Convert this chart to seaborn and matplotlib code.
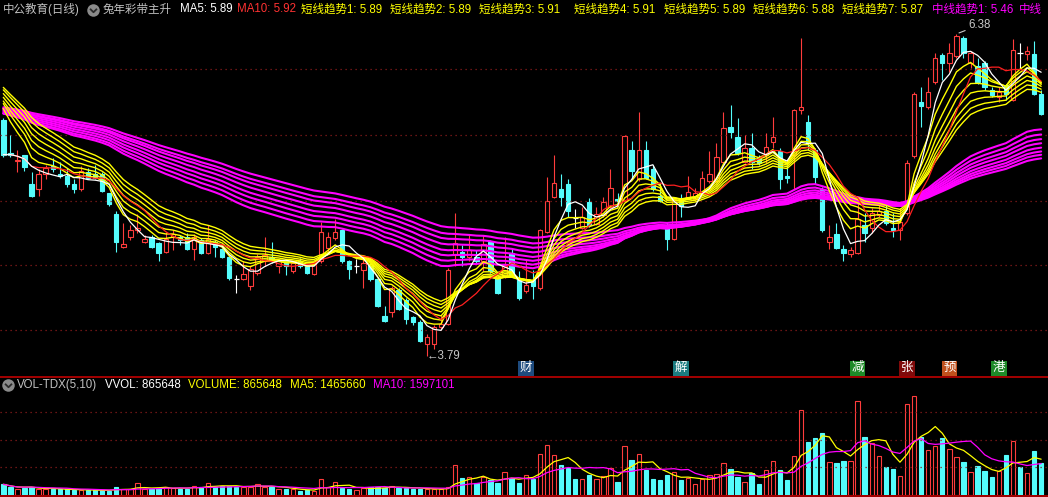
import numpy as np
import pandas as pd
import seaborn as sns
import matplotlib.pyplot as plt
from matplotlib.lines import Line2D
from matplotlib.path import Path
from matplotlib.transforms import blended_transform_factory

# ---------------------- Data -------------------------------------------
opens = [5.69, 5.42, 5.36, 5.41, 5.17, 5.13, 5.25, 5.32, 5.25, 5.24,
         5.17, 5.13, 5.27, 5.25, 5.25, 5.10, 4.93, 4.67, 4.75, 4.80,
         4.71, 4.75, 4.70, 4.63, 4.75, 4.75, 4.75, 4.65, 4.72, 4.62,
         4.71, 4.65, 4.59, 4.41, 4.41, 4.35, 4.46, 4.55, 4.59, 4.51,
         4.55, 4.47, 4.55, 4.51, 4.45, 4.55, 4.66, 4.74, 4.80, 4.55,
         4.51, 4.48, 4.52, 4.41, 4.11, 4.14, 4.32, 4.24, 4.10, 4.06,
         3.89, 3.89, 4.02, 4.05, 4.60, 4.63, 4.59, 4.59, 4.55, 4.71,
         4.42, 4.43, 4.62, 4.42, 4.31, 4.40, 4.34, 4.79, 5.07, 5.13,
         5.17, 4.90, 4.82, 5.03, 4.85, 4.92, 4.99, 5.05, 5.04, 5.45,
         5.21, 5.45, 5.29, 5.08, 4.84, 4.73, 5.06, 5.07, 5.05, 5.11,
         5.20, 5.20, 5.35, 5.63, 5.55, 5.35, 5.46, 5.39, 5.41, 5.51,
         5.44, 5.24, 5.41, 5.77, 5.67, 5.45, 5.13, 4.71, 4.77, 4.65,
         4.61, 4.62, 4.84, 4.82, 4.92, 4.96, 4.82, 4.80, 4.94, 5.40,
         5.83, 5.79, 5.99, 6.21, 6.15, 6.20, 6.35, 6.15, 6.12, 6.15,
         5.93, 5.87, 5.97, 5.85, 6.23, 6.22, 6.22, 5.90]
closes = [5.41, 5.41, 5.37, 5.31, 5.08, 5.25, 5.30, 5.29, 5.24, 5.17,
          5.13, 5.28, 5.22, 5.22, 5.12, 5.01, 4.71, 4.69, 4.80, 4.82,
          4.73, 4.67, 4.62, 4.73, 4.77, 4.72, 4.65, 4.75, 4.62, 4.73,
          4.67, 4.59, 4.42, 4.41, 4.45, 4.49, 4.59, 4.60, 4.55, 4.55,
          4.51, 4.54, 4.51, 4.46, 4.54, 4.79, 4.75, 4.79, 4.55, 4.49,
          4.51, 4.54, 4.41, 4.19, 4.07, 4.34, 4.17, 4.09, 4.06, 3.91,
          3.94, 4.02, 4.05, 4.48, 4.70, 4.59, 4.64, 4.55, 4.69, 4.47,
          4.30, 4.52, 4.44, 4.26, 4.36, 4.35, 4.80, 5.04, 5.18, 5.07,
          4.96, 4.90, 4.91, 4.84, 4.93, 5.03, 5.14, 5.04, 5.56, 5.28,
          5.45, 5.22, 5.13, 5.04, 4.73, 5.05, 5.00, 5.11, 5.10, 5.22,
          5.25, 5.39, 5.62, 5.59, 5.42, 5.46, 5.35, 5.34, 5.47, 5.55,
          5.21, 5.22, 5.77, 5.79, 5.50, 5.23, 4.80, 4.75, 4.66, 4.62,
          4.64, 4.89, 4.78, 4.94, 4.96, 4.86, 4.80, 4.87, 5.34, 5.90,
          5.80, 5.91, 6.19, 6.15, 6.23, 6.36, 6.23, 6.23, 5.99, 5.95,
          5.89, 5.91, 5.90, 6.25, 6.23, 6.24, 5.90, 5.74]
highs = [5.70, 5.57, 5.45, 5.41, 5.27, 5.29, 5.33, 5.38, 5.35, 5.30,
         5.21, 5.32, 5.30, 5.33, 5.27, 5.10, 4.96, 4.86, 4.84, 4.93,
         4.76, 4.76, 4.71, 4.79, 4.80, 4.76, 4.78, 4.77, 4.74, 4.84,
         4.72, 4.66, 4.60, 4.44, 4.55, 4.51, 4.61, 4.75, 4.71, 4.56,
         4.56, 4.55, 4.58, 4.53, 4.55, 4.87, 4.79, 4.89, 4.81, 4.56,
         4.57, 4.57, 4.54, 4.42, 4.19, 4.35, 4.34, 4.26, 4.11, 4.08,
         3.97, 4.04, 4.12, 4.50, 4.94, 4.68, 4.76, 4.64, 4.76, 4.72,
         4.43, 4.75, 4.65, 4.47, 4.57, 4.48, 4.81, 5.23, 5.41, 5.25,
         5.21, 4.97, 4.99, 5.06, 4.99, 5.07, 5.29, 5.10, 5.57, 5.52,
         5.75, 5.52, 5.33, 5.18, 4.87, 5.07, 5.09, 5.24, 5.14, 5.28,
         5.44, 5.50, 5.75, 5.81, 5.70, 5.57, 5.58, 5.41, 5.58, 5.71,
         5.46, 5.33, 5.78, 6.35, 5.73, 5.46, 5.15, 4.84, 4.86, 4.68,
         4.67, 5.04, 4.94, 4.98, 5.04, 5.04, 4.94, 4.98, 5.37, 5.91,
         5.95, 6.03, 6.23, 6.23, 6.31, 6.38, 6.36, 6.24, 6.19, 6.16,
         5.95, 5.95, 5.98, 6.34, 6.31, 6.28, 6.32, 5.93]
lows = [5.39, 5.39, 5.27, 5.28, 5.07, 5.08, 5.21, 5.27, 5.22, 5.15,
        5.10, 5.12, 5.21, 5.21, 5.11, 5.00, 4.63, 4.66, 4.72, 4.78,
        4.70, 4.66, 4.55, 4.62, 4.64, 4.68, 4.64, 4.56, 4.61, 4.61,
        4.59, 4.58, 4.40, 4.30, 4.40, 4.32, 4.44, 4.51, 4.54, 4.46,
        4.44, 4.46, 4.50, 4.45, 4.44, 4.54, 4.63, 4.72, 4.54, 4.41,
        4.46, 4.34, 4.39, 4.18, 4.06, 4.10, 4.16, 4.05, 4.04, 3.90,
        3.79, 3.85, 4.01, 4.04, 4.51, 4.51, 4.55, 4.54, 4.47, 4.46,
        4.29, 4.42, 4.43, 4.24, 4.30, 4.25, 4.32, 4.78, 5.06, 5.00,
        4.91, 4.82, 4.81, 4.83, 4.84, 4.91, 4.98, 5.02, 5.03, 5.21,
        5.20, 5.21, 5.12, 5.03, 4.64, 4.72, 4.91, 5.06, 5.04, 5.10,
        5.18, 5.19, 5.34, 5.54, 5.41, 5.34, 5.29, 5.33, 5.34, 5.46,
        5.13, 5.18, 5.13, 5.74, 5.45, 5.17, 4.79, 4.65, 4.65, 4.55,
        4.59, 4.61, 4.71, 4.78, 4.91, 4.84, 4.75, 4.72, 4.92, 5.38,
        5.63, 5.78, 5.98, 6.01, 6.07, 6.19, 6.19, 6.11, 5.98, 5.93,
        5.87, 5.83, 5.85, 5.84, 6.11, 6.17, 5.89, 5.73]
volume = [386000, 278000, 206000, 264000, 300000, 206000, 206000, 206000, 206000, 206000,
          170000, 170000, 170000, 170000, 170000, 155000, 300000, 206000, 206000, 422000,
          206000, 227000, 242000, 300000, 242000, 227000, 227000, 336000, 278000, 444000,
          278000, 325000, 325000, 300000, 300000, 289000, 386000, 300000, 300000, 206000,
          206000, 206000, 144000, 181000, 155000, 578000, 289000, 458000, 242000, 206000,
          181000, 264000, 278000, 300000, 253000, 336000, 242000, 253000, 227000, 227000,
          206000, 206000, 206000, 300000, 1072000, 625000, 639000, 422000, 639000, 542000,
          444000, 819000, 603000, 444000, 722000, 578000, 1469000, 1805000, 1444000, 1083000,
          964000, 578000, 567000, 722000, 578000, 686000, 964000, 469000, 1769000, 1264000,
          1469000, 903000, 578000, 542000, 722000, 819000, 542000, 603000, 397000, 567000,
          722000, 758000, 1144000, 939000, 661000, 469000, 783000, 397000, 903000, 1227000,
          903000, 542000, 1408000, 3069000, 1924000, 2047000, 2249000, 1191000, 1144000, 1227000,
          1227000, 3393000, 2094000, 1866000, 1408000, 1022000, 939000, 686000, 3285000, 3574000,
          2105000, 1625000, 1769000, 2069000, 1661000, 1361000, 1202000, 819000, 1047000, 866000,
          661000, 866000, 1444000, 1949000, 1000000, 783000, 1588000, 1144000]

# ribbon lines: EMA spans and their values at the first visible bar
short_span = [6, 8, 10, 12, 14, 16, 18]
short_seed = [5.78, 5.82, 5.84, 5.87, 5.90, 5.93, 5.95]
mid_span = [45, 50, 55, 60, 66, 72, 78, 86]
mid_seed = [5.74, 5.74, 5.75, 5.76, 5.77, 5.78, 5.78, 5.79]

# info-mine markers under the candles
event_bars = [74, 96, 121, 128, 134, 141]
event_text = ["财", "解", "减", "张", "预", "港"]
event_color = ["#1E4B7E", "#1C7C80", "#1E8A28", "#800A0A", "#C0501C", "#1E8A28"]

hi_label, lo_label = "6.38", "3.79"

header = [("中公教育(日线)", "#C0C0C0", 3), ("兔年彩带主升", "#C0C0C0", 103),
          ("MA5: 5.89", "#FFFFFF", 180), ("MA10: 5.92", "#FF3232", 237),
          ("短线趋势1: 5.89", "#FFFF00", 301), ("短线趋势2: 5.89", "#FFFF00", 390),
          ("短线趋势3: 5.91", "#FFFF00", 479), ("短线趋势4: 5.91", "#FFFF00", 574),
          ("短线趋势5: 5.89", "#FFFF00", 664), ("短线趋势6: 5.88", "#FFFF00", 753),
          ("短线趋势7: 5.87", "#FFFF00", 842), ("中线趋势1: 5.46", "#FF00FF", 932),
          ("中线", "#FF00FF", 1019)]
vol_header = [("VOL-TDX(5,10)", "#C0C0C0", 17), ("VVOL: 865648", "#FFFFFF", 105),
              ("VOLUME: 865648", "#FFFF00", 188), ("MA5: 1465660", "#FFFF00", 290),
              ("MA10: 1597101", "#FF00FF", 373)]

# ---------------------- Indicators ------------------------
df = pd.DataFrame({"open": opens, "close": closes, "high": highs, "low": lows, "volume": volume})
df["bar"] = np.arange(len(df))
df["ma5"] = df["close"].rolling(5, min_periods=1).mean()
df["ma10"] = df["close"].rolling(10, min_periods=1).mean()
df["vma5"] = df["volume"].rolling(5, min_periods=1).mean()
df["vma10"] = df["volume"].rolling(10, min_periods=1).mean()
prev_close = df["close"].shift(1).fillna(df["close"])
df["up"] = (df["close"] > df["open"]) | ((df["close"] == df["open"]) & (df["close"] >= prev_close))


def ema_from(seed, span, values):
    a = 2.0 / (span + 1)
    out = [seed]
    for v in values[1:]:
        out.append(a * v + (1 - a) * out[-1])
    return out


# ---------------------- Style ------------------------
sns.set_theme(style="dark", rc={"axes.facecolor": "black", "figure.facecolor": "black"})
plt.rcParams["font.family"] = ["Liberation Sans", "Noto Sans CJK SC"]

RED = "#FF3C3C"
CYAN = "#54FCFC"
GRID = "#8C1C1C"
W, H = 1048, 497

fig = plt.figure(figsize=(W / 100, H / 100), dpi=100)
ax = fig.add_axes([0, 121 / H, 1, 376 / H])
axv = fig.add_axes([0, 2 / H, 1, 118 / H])
for a in (ax, axv):
    a.set_xlim(-0.47, 147.97)
    a.set_axis_off()
ax.set_ylim(3.629, 6.653)
axv.set_ylim(0, 118 * 36100)

for p in [6.10, 5.57, 5.04, 4.52, 4.00]:
    ax.axhline(p, color=GRID, lw=0.9, ls=(0, (1, 3)))
for v in [1.0e6, 2.0e6, 3.0e6]:
    axv.axhline(v, color=GRID, lw=0.9, ls=(0, (1, 3)))

# ---------------------- Candles ------------------------
BW = 0.62
up = df[df["up"] & (df["close"] != df["open"])]
dn = df[~df["up"] & (df["close"] != df["open"])]
dj = df[df["close"] == df["open"]]
ax.vlines(up["bar"], up["low"], up["open"], color=RED, lw=0.8)
ax.vlines(up["bar"], up["close"], up["high"], color=RED, lw=0.8)
ax.bar(up["bar"], up["close"] - up["open"], bottom=up["open"], width=BW,
       facecolor="black", edgecolor=RED, lw=0.8)
ax.vlines(dn["bar"], dn["low"], dn["high"], color=CYAN, lw=0.8)
ax.bar(dn["bar"], dn["open"] - dn["close"], bottom=dn["close"], width=BW,
       facecolor=CYAN, edgecolor=CYAN, lw=0.8)
ax.vlines(dj["bar"], dj["low"], dj["high"], color="white", lw=0.8)
ax.hlines(dj["close"], dj["bar"] - 0.36, dj["bar"] + 0.36, color="white", lw=0.9)

# ---------------------- Ribbons and MAs ------------------------
for seed, span in zip(mid_seed, mid_span):
    sns.lineplot(x=df["bar"], y=ema_from(seed, span, closes), ax=ax, color="#FF00FF",
                 lw=1.5, legend=False, errorbar=None)
for seed, span in zip(short_seed, short_span):
    sns.lineplot(x=df["bar"], y=ema_from(seed, span, closes), ax=ax, color="#FFFF00",
                 lw=1.0, legend=False, errorbar=None)
sns.lineplot(data=df, x="bar", y="ma10", ax=ax, color="#FF2020", lw=0.9, errorbar=None)
sns.lineplot(data=df, x="bar", y="ma5", ax=ax, color="white", lw=0.9, errorbar=None)
ax.set_axis_off()

# high / low labels
imax = int(np.argmax(highs))
imin = int(np.argmin(lows))
ax.annotate(hi_label, xy=(imax, highs[imax]), xytext=(12, 9), textcoords="offset pixels",
            color="#C8C8C8", fontsize=8.3, va="center", ha="left",
            arrowprops=dict(arrowstyle="-", color="#C8C8C8", lw=0.8, shrinkA=0, shrinkB=2))
ax.text(imin, lows[imin], "←" + lo_label, color="#C8C8C8", fontsize=8.3, va="center", ha="left")

# event markers
tr = blended_transform_factory(ax.transData, ax.transAxes)
for b, t, c in zip(event_bars, event_text, event_color):
    ax.text(b, 0.021, t, transform=tr, ha="center", va="center", color="white", fontsize=9,
            bbox=dict(boxstyle="square,pad=0.12", fc=c, ec="none"))

# ---------------------- Volume ------------------------
vu = df[df["up"]]
vd = df[~df["up"]]
axv.bar(vu["bar"], vu["volume"], width=BW, facecolor="black", edgecolor=RED, lw=0.8)
axv.bar(vd["bar"], vd["volume"], width=BW, facecolor=CYAN, edgecolor=CYAN, lw=0.8)
sns.lineplot(data=df, x="bar", y="vma5", ax=axv, color="#FFFF00", lw=0.9, errorbar=None)
sns.lineplot(data=df, x="bar", y="vma10", ax=axv, color="#FF00FF", lw=0.9, errorbar=None)
axv.set_axis_off()

# ---------------------- Frame lines and headers ------------------------
fig.add_artist(Line2D([0, 1], [1 - 376.5 / H] * 2, color="#C00000", lw=1.2))
fig.add_artist(Line2D([0, 1], [0.6 / H] * 2, color="#C00000", lw=1.2))

for s, c, x in header:
    fig.text(x / W, 1 - 9.5 / H, s, color=c, fontsize=8.3, va="center", ha="left")
for s, c, x in vol_header:
    fig.text(x / W, 1 - 385 / H, s, color=c, fontsize=8.3, va="center", ha="left")

chevron = Path([(-1, 0.5), (0, -0.5), (1, 0.5)], [Path.MOVETO, Path.LINETO, Path.LINETO])
for cx, cy in [(93, 9.5), (8, 384.5)]:
    fig.add_artist(Line2D([cx / W], [1 - cy / H], marker="o", ms=9, mfc="#8A8A8A", mec="none"))
    fig.add_artist(Line2D([cx / W], [1 - cy / H], marker=chevron, ms=5, mfc="none",
                          mec="#2A2A2A", mew=1.3))

fig.savefig("out.png", dpi=100, facecolor="black")
